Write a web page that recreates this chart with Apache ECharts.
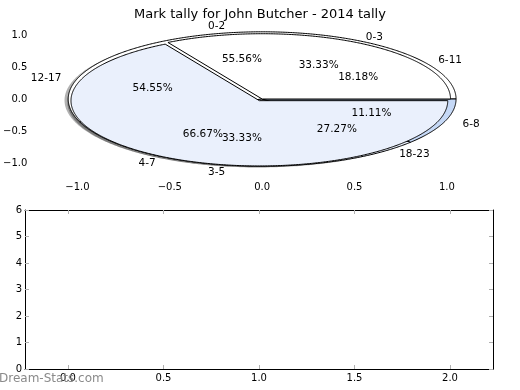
<!DOCTYPE html>
<html>
<head>
<meta charset="utf-8">
<script src="https://cdn.jsdelivr.net/npm/echarts@6/dist/echarts.min.js"></script>
<style>html,body{margin:0;padding:0;background:#fff;}#c{width:520px;height:390px;}</style>
</head>
<body>
<div id="c"></div>
<script>
const titleText = 'Mark tally for John Butcher - 2014 tally';
const pieALabels = ['0-2', '3-5', '6-8'];
const pieAValues = [5, 3, 1];
const pieBLabels = ['0-3', '4-7'];
const pieBValues = [1, 2];
const pieCLabels = ['6-11', '12-17', '18-23'];
const pieCValues = [2, 6, 3];
const topXTicks = [-1, -0.5, 0, 0.5, 1];
const topYTicks = [-1, -0.5, 0, 0.5, 1];
const bottomXTicks = [0, 0.5, 1, 1.5, 2];
const bottomYTicks = [0, 1, 2, 3, 4, 5, 6];
const watermark = 'Dream-Stats.com';

// draw order: C, A, B (B on top)
const pies = [
  { labels: pieCLabels, values: pieCValues },
  { labels: pieALabels, values: pieAValues },
  { labels: pieBLabels, values: pieBValues }
];
const pieLayout = [
  { r: 1.03, explode: [0, 0, 0] },
  { r: 1.05, explode: [0, 0, 0] },
  { r: 1.02, explode: [0, 0.03] }
];
const sliceColors = ['#ffffff', '#eaf0fc', '#c5d8f6'];
const FONT = '"DejaVu Sans", sans-serif';

function geom(p, s) {
  const vals = pies[p].values;
  const total = vals.reduce((a, b) => a + b, 0);
  let before = 0;
  for (let i = 0; i < s; i++) before += vals[i];
  const a0 = before / total * 360;
  const a1 = (before + vals[s]) / total * 360;
  const mid = (a0 + a1) / 2 * Math.PI / 180;
  const e = pieLayout[p].explode[s] || 0;
  return { a0, a1, mid, cx: e * Math.cos(mid), cy: e * Math.sin(mid), r: pieLayout[p].r, frac: vals[s] / total };
}

function wedgePoints(api, g, dx, dy) {
  const pts = [api.coord([g.cx + dx, g.cy + dy])];
  const n = Math.max(4, Math.ceil((g.a1 - g.a0) / 0.5));
  for (let i = 0; i <= n; i++) {
    const t = (g.a0 + (g.a1 - g.a0) * i / n) * Math.PI / 180;
    pts.push(api.coord([g.cx + dx + g.r * Math.cos(t), g.cy + dy + g.r * Math.sin(t)]));
  }
  return pts;
}

const wedgeData = [];
pies.forEach((pie, p) => pie.values.forEach((v, s) => wedgeData.push([0, 0, 0, p, s])));
pies.forEach((pie, p) => pie.values.forEach((v, s) => wedgeData.push([0, 0, 1, p, s])));
const labelData = [];
pies.forEach((pie, p) => pie.values.forEach((v, s) => labelData.push([0, 0, p, s])));

function renderWedge(params, api) {
  const kind = api.value(2), p = api.value(3), s = api.value(4);
  const g = geom(p, s);
  if (kind === 0) {
    return { type: 'polygon', shape: { points: wedgePoints(api, g, -0.02, -0.02) },
      style: { fill: 'rgba(0,0,0,0.3)', stroke: null } };
  }
  return { type: 'polygon', shape: { points: wedgePoints(api, g, 0, 0) },
    style: { fill: sliceColors[s], stroke: '#000', lineWidth: 1, lineJoin: 'miter' } };
}

function renderLabel(params, api) {
  const p = api.value(2), s = api.value(3);
  const g = geom(p, s);
  const c = Math.cos(g.mid), sn = Math.sin(g.mid);
  const lp = api.coord([g.cx + 1.1 * g.r * c, g.cy + 1.1 * g.r * sn]);
  const pp = api.coord([g.cx + 0.6 * g.r * c, g.cy + 0.6 * g.r * sn]);
  return { type: 'group', children: [
    { type: 'text', x: lp[0], y: lp[1], style: { text: pies[p].labels[s], fill: '#000',
      fontSize: 10.5, fontFamily: FONT, align: c >= 0 ? 'left' : 'right', verticalAlign: 'middle' } },
    { type: 'text', x: pp[0], y: pp[1], style: { text: (g.frac * 100).toFixed(2) + '%', fill: '#000',
      fontSize: 10.5, fontFamily: FONT, align: 'center', verticalAlign: 'middle' } }
  ] };
}

function fmt(v) { const t = Math.abs(v).toFixed(1); return v < 0 ? '\u2212' + t : t; }

const tickStyle = { show: true, inside: true, length: 4, lineStyle: { color: '#b0b0b0', width: 1 } };
const labelStyle = { color: '#000', fontSize: 10, fontFamily: FONT };

const chart = echarts.init(document.getElementById('c'), null, { renderer: 'canvas' });
chart.setOption({
  animation: false,
  backgroundColor: '#fff',
  title: { text: titleText, left: 'center', top: 3,
    textStyle: { fontSize: 13, fontWeight: 'normal', color: '#000', fontFamily: FONT } },
  grid: [
    { left: 25, top: 19, width: 468, height: 160, containLabel: false },
    { left: 25, top: 210, width: 468, height: 159, containLabel: false }
  ],
  xAxis: [
    { gridIndex: 0, type: 'value', min: -1.25, max: 1.25, position: 'bottom',
      axisLine: { show: false }, splitLine: { show: false },
      axisTick: Object.assign({ customValues: topXTicks }, tickStyle),
      axisLabel: Object.assign({ customValues: topXTicks, formatter: fmt, margin: 3 }, labelStyle) },
    { gridIndex: 0, type: 'value', min: -1.25, max: 1.25, position: 'top',
      axisLine: { show: false }, splitLine: { show: false },
      axisTick: Object.assign({ customValues: topXTicks }, tickStyle),
      axisLabel: { show: false } },
    { gridIndex: 1, type: 'value', min: -0.225, max: 2.225, position: 'bottom',
      axisLine: { show: true, onZero: false, lineStyle: { color: '#000', width: 1 } }, splitLine: { show: false },
      axisTick: Object.assign({ customValues: bottomXTicks }, tickStyle),
      axisLabel: Object.assign({ customValues: bottomXTicks, formatter: fmt, margin: 4 }, labelStyle) },
    { gridIndex: 1, type: 'value', min: -0.225, max: 2.225, position: 'top',
      axisLine: { show: true, onZero: false, lineStyle: { color: '#000', width: 1 } }, splitLine: { show: false },
      axisTick: Object.assign({ customValues: bottomXTicks }, tickStyle),
      axisLabel: { show: false } }
  ],
  yAxis: [
    { gridIndex: 0, type: 'value', min: -1.25, max: 1.25, position: 'left',
      axisLine: { show: false }, splitLine: { show: false },
      axisTick: Object.assign({ customValues: topYTicks }, tickStyle),
      axisLabel: Object.assign({ customValues: topYTicks, formatter: fmt, margin: 4 }, labelStyle) },
    { gridIndex: 0, type: 'value', min: -1.25, max: 1.25, position: 'right',
      axisLine: { show: false }, splitLine: { show: false },
      axisTick: Object.assign({ customValues: topYTicks }, tickStyle),
      axisLabel: { show: false } },
    { gridIndex: 1, type: 'value', min: 0, max: 6, interval: 1, position: 'left',
      axisLine: { show: true, onZero: false, lineStyle: { color: '#000', width: 1 } }, splitLine: { show: false },
      axisTick: Object.assign({ customValues: bottomYTicks }, tickStyle),
      axisLabel: Object.assign({ customValues: bottomYTicks, margin: 3 }, labelStyle) },
    { gridIndex: 1, type: 'value', min: 0, max: 6, interval: 1, position: 'right',
      axisLine: { show: true, onZero: false, lineStyle: { color: '#000', width: 1 } }, splitLine: { show: false },
      axisTick: Object.assign({ customValues: bottomYTicks }, tickStyle),
      axisLabel: { show: false } }
  ],
  series: [
    { type: 'custom', xAxisIndex: 0, yAxisIndex: 0, clip: false, data: wedgeData,
      encode: { x: 0, y: 1 }, renderItem: renderWedge, z: 2, silent: true },
    { type: 'custom', xAxisIndex: 0, yAxisIndex: 0, clip: false, data: labelData,
      encode: { x: 0, y: 1 }, renderItem: renderLabel, z: 5, silent: true }
  ],
  graphic: [
    { type: 'text', left: -1, top: 373, z: 10,
      style: { text: watermark, fill: '#8a8a8a', fontSize: 12, fontFamily: FONT } }
  ]
});
</script>
</body>
</html>
